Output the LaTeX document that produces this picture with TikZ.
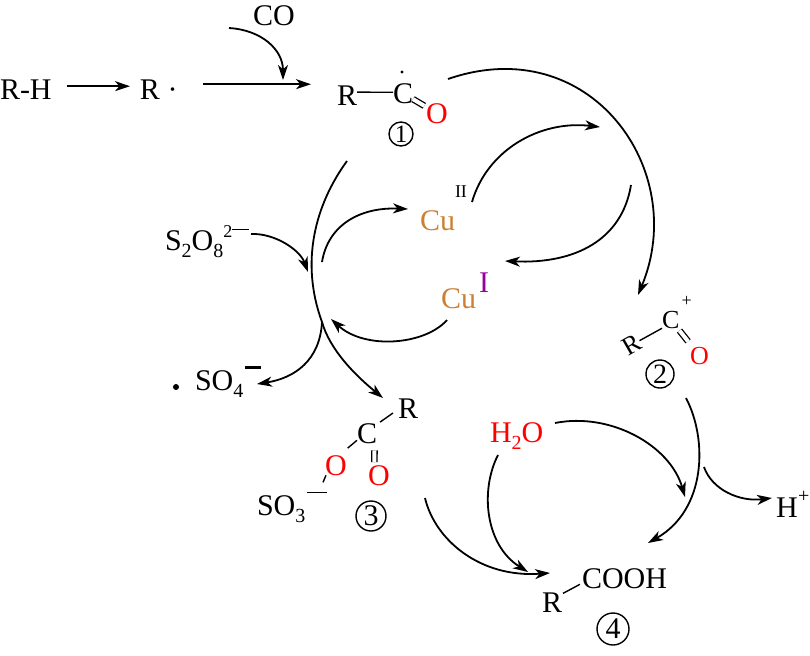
\documentclass[tikz,border=0pt]{standalone}
\usepackage{fontspec}
\setmainfont{Liberation Serif}
\usetikzlibrary{arrows.meta}
\definecolor{oxred}{RGB}{255,0,0}
\definecolor{cuor}{RGB}{204,128,51}
\definecolor{cupur}{RGB}{153,0,153}
\newcommand{\fA}{\fontsize{15}{18}\selectfont}
\newcommand{\fB}{\fontsize{13}{15}\selectfont}
\newcommand{\sbs}[1]{\raisebox{-3.5pt}{\fontsize{10}{10}\selectfont #1}}
\newcommand{\sps}[1]{\raisebox{6.5pt}{\fontsize{9}{9}\selectfont #1}}
\begin{document}
\begin{tikzpicture}[x=0.5pt,y=-0.5pt,
  txt/.style={inner sep=0pt, outer sep=0pt, font=\fA},
  arr/.style={line width=0.9pt, -{Stealth[length=7.5pt,width=5pt,inset=2.2pt]}},
  bond/.style={line width=0.7pt},
  dbond/.style={line width=0.65pt, double, double distance=2pt},
  cnum/.style={circle, draw, line width=0.7pt, inner sep=0pt},
  ored/.style={text=oxred},
  dotn/.style={circle, fill, inner sep=0pt, minimum size=1.6pt},
]
\fill[white] (0,0) rectangle (810,655);
\useasboundingbox (0,0) rectangle (810,655);

% top row
\node[txt, anchor=base west] (rh) at (0,99) {R-H};
\node[txt, anchor=base west] (r) at (140,99) {R ·};
\node[txt, anchor=base west] (co) at (253,25) {CO};

% structure 1
\node[txt, anchor=base west] (r1) at (337,105) {R};
\node[txt, anchor=base west] (c1) at (393,103) {C};
\node[dotn] (d1) at (402,72) {};
\node[txt, anchor=base west, ored] (o1) at (426,123) {O};
\node[cnum, minimum size=12pt, font=\fontsize{12.5}{13}\selectfont] (n1) at (401,134) {1};

% copper
\node[txt, anchor=base west, text=cuor] (cu2) at (420,230) {Cu};
\node[txt, anchor=base west, font=\fontsize{9}{9}\selectfont] (cu2s) at (455,197) {II};
\node[txt, anchor=base west, text=cuor] (cu1) at (441,308) {Cu};
\node[txt, anchor=base west, text=cupur] (cu1s) at (479,292) {I};

% persulfate and sulfate radical
\node[txt, anchor=base west] (s2o8) at (165,250) {S\sbs{2}O\sbs{8}\sps{2}\raisebox{10pt}{\rule{8.5pt}{0.7pt}}};
\node[dotn, minimum size=3pt] (sdot) at (176,387) {};
\node[txt, anchor=base west] (so4) at (195,390) {SO\sbs{4}\hspace{1pt}\raisebox{10.5pt}{\rule{8pt}{1.3pt}}};

% structure 2
\node[txt, anchor=base west, font=\fB] (c2) at (662,328) {C};
\node[txt, anchor=base west, font=\fontsize{9}{9}\selectfont] (p2) at (681.5,306) {+};
\node[txt, font=\fB, rotate=30] (r2) at (632,345) {R};
\node[txt, anchor=base west, font=\fB, ored] (o2) at (690,364) {O};
\node[cnum, minimum size=14pt, font=\fontsize{14}{14}\selectfont] (n2) at (660,374) {2};

% structure 3
\node[txt, anchor=base west] (r3) at (398,418) {R};
\node[txt, anchor=base west] (c3) at (357,443) {C};
\node[txt, anchor=base west, ored] (o3a) at (325,475) {O};
\node[txt, anchor=base west, ored] (o3b) at (368,485) {O};
\node[txt, anchor=base west] (so3) at (257,515) {SO\sbs{3}\hspace{1pt}\raisebox{11pt}{\rule{10pt}{0.7pt}}};
\node[cnum, minimum size=15pt, font=\fontsize{15}{15}\selectfont] (n3) at (371,516) {3};

% water
\node[txt, anchor=base west, ored] (h2o) at (490,442) {H\sbs{2}O};

% structure 4
\node[txt, anchor=base west] (r4) at (542,612) {R};
\node[txt, anchor=base west] (cooh) at (582,588) {COOH};
\node[cnum, minimum size=16pt, font=\fontsize{15}{15}\selectfont] (n4) at (613,629) {4};

% proton
\node[txt, anchor=base west] (hp) at (776,517) {H};
\node[txt, anchor=base west, font=\fontsize{10}{10}\selectfont] (hps) at (798,502) {+};

% bonds
\draw[bond] ([yshift=1.5pt]r1.east) -- ([yshift=0.5pt]c1.west);
\draw[dbond, shorten >=1pt] (c1) -- (o1);
\draw[bond] (r2.east) -- (c2.south west);
\draw[dbond, shorten <=1.5pt, shorten >=3.5pt] (c2) -- (o2);
\draw[bond] ([xshift=1.5pt,yshift=0.5pt]c3.north east) -- ([xshift=-2.5pt,yshift=2.5pt]r3.south west);
\draw[bond] ([xshift=0.5pt,yshift=3.5pt]o3a.north east) -- ([yshift=1.5pt]c3.south west);
\draw[dbond] ([xshift=3.75pt,yshift=-3.5pt]c3.south) -- ([xshift=-2.25pt,yshift=1.5pt]o3b.north);
\draw[bond] ([xshift=-1pt,yshift=-3.5pt]o3a.south west) -- ([xshift=0.5pt]o3a.south west);
\draw[bond] ([xshift=0.5pt,yshift=-0.5pt]r4.north east) -- ([xshift=-1pt,yshift=2pt]cooh.south west);

% straight arrows
\draw[arr] ([xshift=7.5pt,yshift=1.5pt]rh.east) -- ([xshift=-5pt,yshift=1.5pt]r.west);
\draw[arr] ([xshift=12.5pt,yshift=2.5pt]r.east) -- ([xshift=-13pt,yshift=5.5pt]r1.west);

% curved arrow end points
\coordinate (coS) at (229,28);   \coordinate (coE) at (283,80);
\coordinate (bigS) at (448,79);  \coordinate (bigE) at (638,295);
\coordinate (in1S) at (472,202); \coordinate (in1E) at (600,127);
\coordinate (in2S) at (631,185); \coordinate (in2E) at (505,261);
\coordinate (lS) at (347,161);   \coordinate (lM) at (322,322);  \coordinate (lE) at (383,398);
\coordinate (so4E) at (257,384);
\coordinate (psS) at (251,234);  \coordinate (psE) at (308,272);
\coordinate (cu2S) at (322,262); \coordinate (cu2E) at (408,209);
\coordinate (cu1S) at (447,320); \coordinate (cu1E) at (331,319);
\coordinate (rtS) at (686,398);  \coordinate (rtE) at (648,543);
\coordinate (hpS) at (704,467);  \coordinate (hpE) at (772,498);
\coordinate (w1S) at (555,423);  \coordinate (w1E) at (685,497);
\coordinate (w2S) at (498,455);  \coordinate (w2E) at (528,572);
\coordinate (s3S) at (425,498);  \coordinate (s3E) at (550,573);

% curved arrows
\draw[arr] (coS) .. controls (262,30) and (283,50) .. (coE);
\draw[arr] (bigS) .. controls (590,30) and (690,170) .. (bigE);
\draw[arr] (in1S) .. controls (487,150) and (540,120) .. (in1E);
\draw[arr] (in2S) .. controls (622,240) and (575,264) .. (in2E);
\draw[arr] (lS) .. controls (315,205) and (300,262) .. (lM) .. controls (330,350) and (355,375) .. (lE);
\draw[arr] (lM) .. controls (320,360) and (295,378) .. (so4E);
\draw[arr] (psS) .. controls (275,233) and (300,250) .. (psE);
\draw[arr] (cu2S) .. controls (328,225) and (360,207) .. (cu2E);
\draw[arr] (cu1S) .. controls (425,345) and (365,350) .. (cu1E);
\draw[arr] (rtS) .. controls (708,440) and (706,510) .. (rtE);
\draw[arr] (hpS) .. controls (712,490) and (740,502) .. (hpE);
\draw[arr] (w1S) .. controls (610,412) and (670,445) .. (w1E);
\draw[arr] (w2S) .. controls (480,490) and (485,545) .. (w2E);
\draw[arr] (s3S) .. controls (435,540) and (480,578) .. (s3E);
\end{tikzpicture}
\end{document}
